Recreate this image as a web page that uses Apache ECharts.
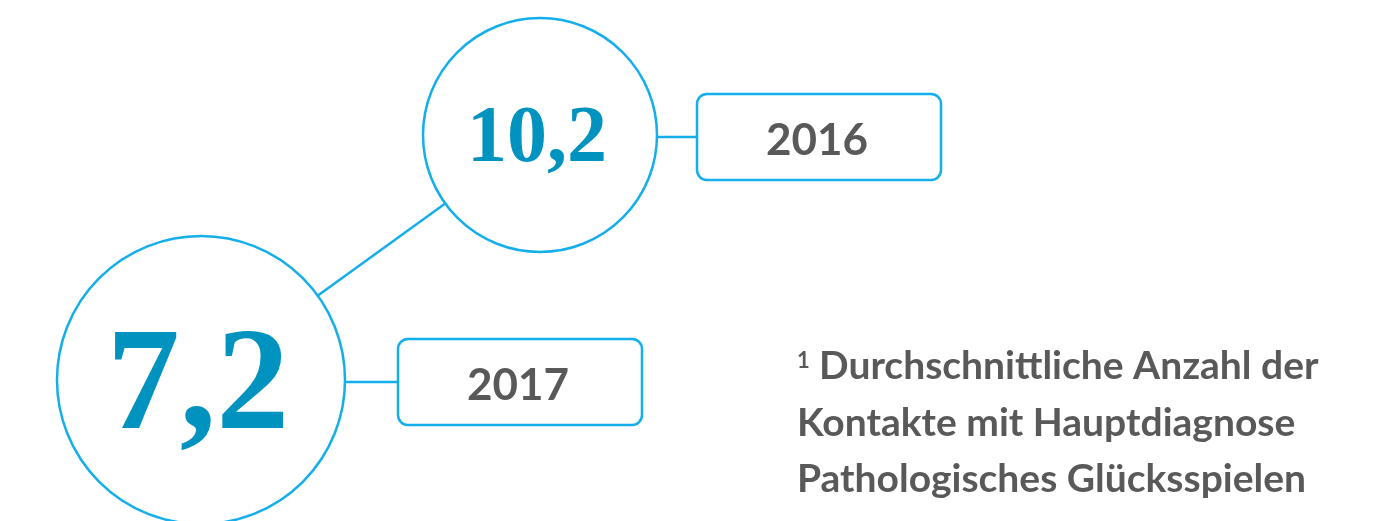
<!DOCTYPE html>
<html>
<head>
<meta charset="utf-8">
<script src="https://cdn.jsdelivr.net/npm/echarts@6/dist/echarts.min.js"></script>
<style>
    html, body { margin: 0; padding: 0; background: #fff; }
    #main { width: 1379px; height: 521px; }
</style>
</head>
<body>
<div id="main"></div>
<script>
    // data
    var years = ['2016', '2017'];
    var values = [10.2, 7.2];
    var noteLines = [
        'Durchschnittliche Anzahl der',
        'Kontakte mit Hauptdiagnose',
        'Pathologisches Glücksspielen'
    ];

    // look
    var BLUE = '#14AEEA';
    var VALUE_COLOR = '#0093C0';
    var GREY = '#595959';
    var radius = [117, 144];      // circle radius per item
    var valueFont = [80, 146];    // value font size per item
    var boxGap = [40, 53];        // gap circle edge -> year box
    var BOX_W = 244, BOX_H = 86;

    function fmt(v) {
        return v.toFixed(1).replace('.', ',');
    }

    var chart = echarts.init(document.getElementById('main'));

    function renderBubble(params, api) {
        var i = params.dataIndex;
        var p = api.coord([api.value(0), api.value(1)]);
        var cx = p[0], cy = p[1], r = radius[i];
        var lineY = cy + 2;
        var boxX = cx + r + boxGap[i];
        return {
            type: 'group',
            children: [
                {
                    type: 'line',
                    shape: { x1: cx + r, y1: lineY, x2: boxX, y2: lineY },
                    style: { stroke: BLUE, lineWidth: 2.5 }
                },
                {
                    type: 'circle',
                    shape: { cx: cx, cy: cy, r: r },
                    style: { fill: '#fff', stroke: BLUE, lineWidth: 2.5 }
                },
                {
                    type: 'text',
                    x: cx - 3,
                    y: cy + valueFont[i] * 0.07,
                    style: {
                        text: fmt(values[i]),
                        font: 'bold ' + valueFont[i] + 'px "Liberation Serif", "Times New Roman", serif',
                        fill: VALUE_COLOR,
                        align: 'center',
                        verticalAlign: 'middle'
                    }
                },
                {
                    type: 'rect',
                    shape: { x: boxX, y: lineY - BOX_H / 2, width: BOX_W, height: BOX_H, r: 10 },
                    style: { fill: '#fff', stroke: BLUE, lineWidth: 2.5 }
                },
                {
                    type: 'text',
                    x: boxX + BOX_W / 2 - 2,
                    y: lineY + 4,
                    style: {
                        text: years[i],
                        font: 'bold 44px Lato, "Open Sans", sans-serif',
                        fill: GREY,
                        align: 'center',
                        verticalAlign: 'middle'
                    }
                }
            ]
        };
    }

    var noteText = noteLines.map(function (t, k) {
        return {
            type: 'text',
            left: k === 0 ? 819 : 797,
            top: 347 + k * 56.5,
            style: {
                text: t,
                font: 'bold 39px Lato, "Open Sans", sans-serif',
                fill: GREY
            }
        };
    });
    noteText.push({
        type: 'text',
        left: 797,
        top: 350,
        style: {
            text: '1',
            font: 'bold 22px Lato, "Open Sans", sans-serif',
            fill: GREY
        }
    });

    chart.setOption({
        animation: false,
        grid: { left: 201, right: 839, top: 135, bottom: 141 },
        xAxis: {
            type: 'category',
            data: years,
            inverse: true,
            boundaryGap: false,
            show: false
        },
        yAxis: {
            type: 'value',
            min: 'dataMin',
            max: 'dataMax',
            show: false
        },
        graphic: noteText,
        series: [
            {
                type: 'line',
                data: values,
                symbol: 'none',
                lineStyle: { color: BLUE, width: 2.5 },
                z: 1
            },
            {
                type: 'custom',
                renderItem: renderBubble,
                data: years.map(function (y, i) { return [i, values[i]]; }),
                encode: { x: 0, y: 1 },
                clip: false,
                z: 2
            }
        ]
    });
</script>
</body>
</html>
